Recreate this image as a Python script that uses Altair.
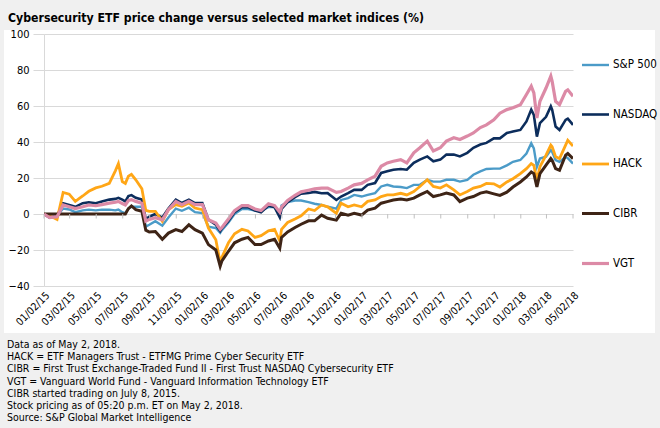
import altair as alt
import pandas as pd

dates = [
    "2015-01-02", "2015-01-15", "2015-02-01", "2015-02-15", "2015-03-01", "2015-03-15",
    "2015-04-01", "2015-04-15", "2015-05-01", "2015-05-15", "2015-06-01", "2015-06-15",
    "2015-06-22", "2015-07-01", "2015-07-08", "2015-07-15", "2015-07-22", "2015-08-01",
    "2015-08-15", "2015-08-24", "2015-09-01", "2015-09-15", "2015-10-01", "2015-10-15",
    "2015-11-01", "2015-11-15", "2015-12-01", "2015-12-15", "2016-01-01", "2016-01-15",
    "2016-02-01", "2016-02-11", "2016-02-15", "2016-03-01", "2016-03-15", "2016-04-01",
    "2016-04-15", "2016-05-01", "2016-05-15", "2016-06-01", "2016-06-15", "2016-06-27",
    "2016-07-01", "2016-07-15", "2016-08-01", "2016-08-15", "2016-09-01", "2016-09-15",
    "2016-10-01", "2016-10-15", "2016-11-04", "2016-11-15", "2016-12-01", "2016-12-15",
    "2017-01-01", "2017-01-15", "2017-02-01", "2017-02-15", "2017-03-01", "2017-03-15",
    "2017-04-01", "2017-04-15", "2017-05-01", "2017-05-15", "2017-06-01", "2017-06-15",
    "2017-07-01", "2017-07-15", "2017-08-01", "2017-08-15", "2017-09-01", "2017-09-15",
    "2017-10-01", "2017-10-15", "2017-11-01", "2017-11-15", "2017-12-01", "2017-12-15",
    "2018-01-01", "2018-01-15", "2018-01-26", "2018-02-01", "2018-02-08", "2018-02-15",
    "2018-03-01", "2018-03-12", "2018-03-15", "2018-03-23", "2018-04-01", "2018-04-15",
    "2018-04-20", "2018-05-02",
]

sp500 = [
    0, -2, -1, 3, 2.5, 1, 2, 2.4, 2, 2.4, 2.4, 2,
    2.5, 1, 0.5, 3, 4, 4, 4, -7, -6, -4, -6.5, -2,
    3, 1.8, 3.5, 1, 0.5, -7, -7.8, -10.5, -9, -4.7, 0, 2.8,
    2.8, 1.9, 1.9, 3.8, 3.8, -1, 4.7, 6.6, 7.5, 7.5, 6.6, 5.7,
    5, 4, 3, 7.8, 8.8, 10.6, 9.7, 10.6, 11.6, 15.3, 16.2, 15.3,
    15, 14.4, 16.2, 16.2, 19, 18, 18, 19, 19, 18, 19, 21.8,
    23.7, 25, 25.2, 25.2, 27, 29, 30, 33.6, 39.3, 36.4, 26.2, 30.8,
    31.8, 35.5, 34.6, 30, 29, 31.8, 31, 28,
]

nasdaq = [
    0, -2, -1, 6, 5, 4, 6, 6.5, 6, 7, 8, 8.4,
    9, 8, 7, 10, 10.5, 9, 8, -3, -1.5, 0, -2, 3,
    8, 6.1, 8, 6.1, 6.1, -3.2, -6, -9.5, -8, -3.8, 1, 3.8,
    3.8, 1.9, 1, 4.7, 3.8, -1.9, 2.8, 6.6, 9.4, 11.3, 11.7, 12.3,
    11.5, 11.6, 7.8, 9.7, 11.6, 13.4, 13.4, 16.2, 17.2, 22.8, 23.7, 24.6,
    25, 24.6, 28.4, 30.2, 32, 29.3, 30.2, 33, 33, 32, 34, 36.8,
    38.6, 39.5, 42, 42, 45, 45.8, 46.7, 51.4, 58, 55, 43, 50.5,
    54, 59.8, 58, 48.6, 46.7, 52.3, 53, 49.5,
]

hack = [
    0, -1, -3, 12, 11, 7, 10, 12.6, 14.5, 15.4, 17, 24,
    28, 18, 17, 21, 22, 19, 14, 2, 1.5, 1.5, -4, 2.4,
    5.2, 4.3, 6.1, 3.3, 2.4, -7.8, -14.3, -27, -24, -16, -11, -8.5,
    -9.4, -13, -12, -9.4, -8.5, -15, -8.5, -4.7, -2.8, -1, 2.8, 1.9,
    5, 4, 0.4, 6, 4, 5, 4, 7, 7.8, 9.7, 10.6, 10.6,
    11.5, 10.6, 12.5, 15.3, 19, 15.3, 14.4, 16.2, 13.4, 10.6, 12.5, 14.4,
    15.3, 17, 16.8, 15, 17.8, 19.6, 22.4, 25.2, 28, 27, 18.7, 26.2,
    32.7, 38.3, 37.4, 31.8, 30.8, 38.3, 41, 37.8,
]

cibr = [
    0, 0, 0, 0, 0, 0, 0, 0, 0, 0, 0, 0,
    0, 0, 0, 3, 4.5, 2.4, 1.5, -9, -10, -9.7, -14, -10.6,
    -8.7, -9.7, -6, -8.7, -10.6, -17, -20, -29, -26, -20.7, -16, -14,
    -13, -17, -17, -15, -14, -19, -13, -10, -7.5, -5.7, -3.8, -3.8,
    -0.6, -2.4, -3.4, 0.4, -0.6, 0.4, -0.6, 2.2, 3.2, 6, 6.9, 7.8,
    8.3, 7.8, 8.8, 10.6, 12.5, 9.7, 10.6, 11.6, 10.6, 6.9, 8.8, 9.7,
    11.6, 12.3, 11.2, 10.3, 12.1, 15, 17.8, 20.6, 23.4, 22.4, 15, 22.4,
    27.1, 30.8, 29.9, 25.2, 24.3, 32.7, 33.6, 30.8,
]

vgt = [
    0, -2, -1.5, 5, 4, 3, 4, 5, 4.6, 5.2, 6, 6.5,
    7, 5.8, 5, 7.5, 8, 7, 6, -4, -3, -2, -3.2, 2.4,
    7, 5.2, 7, 5.2, 5.2, -3.2, -5, -8.5, -7.5, -2.8, 1.9, 4.7,
    4.7, 2.8, 1.9, 5.7, 4.7, 1, 3.8, 7.5, 10.4, 12.3, 13.2, 14,
    14.4, 14.4, 12, 12.5, 14.4, 16.2, 17, 19, 21, 26.5, 28.4, 29.3,
    30.2, 28.4, 34, 36.8, 40.5, 35, 36.8, 40.5, 42.4, 41.4, 43.3, 45,
    48, 49.5, 52.3, 56, 58, 59, 60.7, 66.4, 71, 67.3, 53.3, 62.6,
    70, 76.6, 73.8, 62.6, 60.7, 68.2, 69, 65.4,
]

series_names = ["S&P 500", "NASDAQ", "HACK", "CIBR", "VGT"]
series_colors = ["#4b9bc8", "#0c2d5c", "#ffa616", "#3e2416", "#dc8aa6"]
series_widths = [2.4, 3.2, 2, 2, 2]

x_tick_labels = [
    "2015-01-02", "2015-03-02", "2015-05-02", "2015-07-02", "2015-09-02", "2015-11-02",
    "2016-01-02", "2016-03-02", "2016-05-02", "2016-07-02", "2016-09-02", "2016-11-02",
    "2017-01-02", "2017-03-02", "2017-05-02", "2017-07-02", "2017-09-02", "2017-11-02",
    "2018-01-02", "2018-03-02", "2018-05-02",
]
y_ticks = [-40, -20, 0, 20, 40, 60, 80, 100]

title_text = "Cybersecurity ETF price change versus selected market indices (%)"
footnotes = [
    "Data as of May 2, 2018.",
    "HACK = ETF Managers Trust - ETFMG Prime Cyber Security ETF",
    "CIBR = First Trust Exchange-Traded Fund II - First Trust NASDAQ Cybersecurity ETF",
    "VGT = Vanguard World Fund - Vanguard Information Technology ETF",
    "CIBR started trading on July 8, 2015.",
    "Stock pricing as of 05:20 p.m. ET on May 2, 2018.",
    "Source: S&P Global Market Intelligence",
]

rows = []
for name, vals in zip(series_names, [sp500, nasdaq, hack, cibr, vgt]):
    for d, v in zip(dates, vals):
        rows.append({"date": d, "series": name, "value": v})
df = pd.DataFrame(rows)

tick_ms = [int(pd.Timestamp(s, tz="UTC").value // 10**6) for s in x_tick_labels]
ticks_df = pd.DataFrame({"date": x_tick_labels})

FONT = "'DejaVu Sans Condensed', 'Roboto Condensed', 'Liberation Sans Narrow', Roboto, sans-serif"
GREY = "#f0f0f0"
GRID = "#d9d9d9"
W, H = 529, 252

x_scale = alt.Scale(type="utc", domain=[tick_ms[0], tick_ms[-1]])
y_scale = alt.Scale(domain=[-40, 100], nice=False, zero=False)

one = alt.Data(values=[{"p": 1}])


def strip(x0, x1, y0, y1):
    return alt.Chart(one).mark_rect(color=GREY).encode(
        x=alt.value(x0), x2=alt.value(x1), y=alt.value(y0), y2=alt.value(y1)
    )


frame = [
    strip(-44, 616, -34, -4),
    strip(-44, 616, 299, 394),
    strip(-44, -40, -4, 299),
    strip(611, 616, -4, 299),
]

lines = alt.Chart(df).mark_line(clip=True).encode(
    x=alt.X("date:T", scale=x_scale, title=None,
            axis=alt.Axis(values=tick_ms, tickCount=60, format="%m/%d/%y",
                          labelAngle=-45, labelAlign="right", labelBaseline="top",
                          ticks=False, domain=False, grid=False, labelPadding=4,
                          labelOverlap=False, labelFont=FONT, labelFontSize=10.5,
                          labelColor="#000000")),
    y=alt.Y("value:Q", scale=y_scale, title=None,
            axis=alt.Axis(values=y_ticks, tickCount=30, grid=True, gridColor=GRID,
                          gridOpacity=1, domain=True, domainColor=GRID,
                          ticks=True, tickColor=GRID, tickSize=11,
                          labelPadding=4, labelOverlap=False, labelFont=FONT,
                          labelFontSize=11, labelColor="#000000")),
    color=alt.Color("series:N",
                    scale=alt.Scale(domain=series_names, range=series_colors),
                    sort=series_names,
                    legend=alt.Legend(title=None, orient="none", legendX=536, legendY=16,
                                      symbolType="stroke", symbolSize=729,
                                      symbolStrokeWidth=3, labelFont=FONT,
                                      labelFontSize=11.5, labelColor="#000000",
                                      labelOffset=2, rowPadding=28.5)),
    strokeWidth=alt.StrokeWidth("series:N",
                                scale=alt.Scale(domain=series_names, range=series_widths),
                                legend=None),
    order=alt.Order("series:N"),
)

x_ticks_marks = alt.Chart(ticks_df).mark_rule(color="#c0c0c0", strokeWidth=1).encode(
    x=alt.X("date:T", scale=x_scale),
    y=alt.datum(0),
    y2=alt.datum(-2.5),
)

title = alt.Chart(alt.Data(values=[{"t": title_text}])).mark_text(
    align="left", baseline="alphabetic", font=FONT, fontSize=12.2, fontWeight="bold",
    color="#000000"
).encode(x=alt.value(-36), y=alt.value(-12.5), text="t:N")

notes = alt.Chart(alt.Data(values=[{"t": "\n".join(footnotes)}])).mark_text(
    align="left", baseline="top", font=FONT, fontSize=10.5, lineHeight=12.2,
    lineBreak="\n", color="#000000"
).encode(x=alt.value(-37), y=alt.value(306), text="t:N")

chart = alt.layer(lines, x_ticks_marks, *frame, title, notes).properties(
    width=W, height=H,
    autosize=alt.AutoSizeParams(type="none"),
    padding={"left": 44, "top": 34, "right": 87, "bottom": 142},
).configure(background="#ffffff").configure_view(stroke=None).configure_axis(
    labelOverlap=False
)

chart.save("out.html", embed_options={"renderer": "svg", "actions": False})
